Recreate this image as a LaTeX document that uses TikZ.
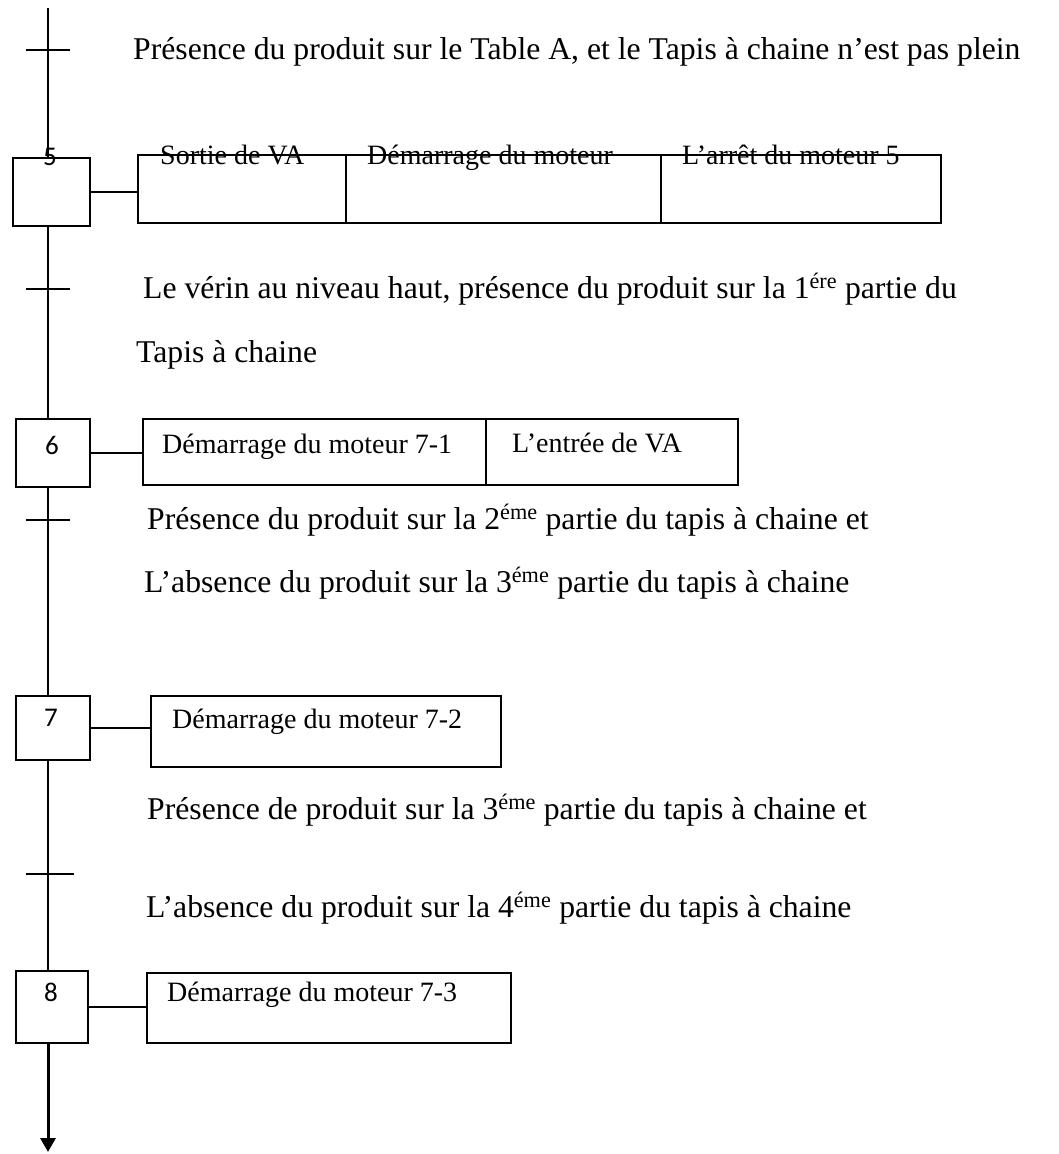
\documentclass[tikz,border=0pt]{standalone}
\usepackage{fontspec}
\setmainfont{Liberation Serif}
\newfontfamily\stepfont{Carlito}
\usetikzlibrary{arrows.meta}

\tikzset{
  px/.style={x=1pt,y=-1pt},
  link/.style={line width=2pt},
  stepbox/.style={draw,line width=2pt,inner sep=0pt,anchor=north west},
  actbox/.style={draw,line width=2pt,inner sep=0pt,anchor=north west,minimum height=68pt},
  stepnum/.style={inner sep=0pt,font=\stepfont\fontsize{27}{30}\selectfont},
  cond/.style={inner sep=0pt,anchor=base west,font=\fontsize{31.7}{38}\selectfont},
  act/.style={inner sep=0pt,anchor=base west,font=\fontsize{28}{34}\selectfont},
}

\begin{document}
\begin{tikzpicture}[px]
\useasboundingbox (0,0) rectangle (1059,1154);

% step boxes
\node[stepbox,minimum width=77pt,minimum height=68pt] (s5) at (12,157) {};
\node[stepbox,minimum width=74pt,minimum height=68pt] (s6) at (15,418) {};
\node[stepbox,minimum width=74pt,minimum height=64pt] (s7) at (15,695) {};
\node[stepbox,minimum width=72pt,minimum height=72pt] (s8) at (15,970) {};

\node[stepnum] (n5) at (50,157) {5};
\node[stepnum] (n6) at (52,445) {6};
\node[stepnum] (n7) at (51,718) {7};
\node[stepnum] (n8) at (51,992) {8};

% action boxes
\node[actbox,minimum width=208pt] (a51) at (137,154) {};
\node[actbox,minimum width=315pt] (a52) at (345,154) {};
\node[actbox,minimum width=280pt] (a53) at (660,154) {};

\node[actbox,minimum width=343pt,minimum height=66pt] (a61) at (142,418) {};
\node[actbox,minimum width=252pt,minimum height=66pt] (a62) at (485,418) {};

\node[actbox,minimum width=350pt,minimum height=71pt] (a71) at (150,695) {};

\node[actbox,minimum width=364pt,minimum height=70pt] (a81) at (146,972) {};

% action texts
\node[act] (l51) at (160,164) {Sortie de VA};
\node[act] (l52) at (367,164) {Démarrage du moteur};
\node[act] (l53) at (682,164) {L’arrêt du moteur 5};
\node[act] (l61) at (162,453) {Démarrage du moteur 7-1};
\node[act] (l62) at (512,452) {L’entrée de VA};
\node[act] (l71) at (172,728) {Démarrage du moteur 7-2};
\node[act] (l81) at (167,1001) {Démarrage du moteur 7-3};

% links from steps to actions
\draw[link] (s5.east) -- (s5.east -| a51.west);
\draw[link] (s6.east) -- (s6.east -| a61.west);
\draw[link] (s7.east) -- (s7.east -| a71.west);
\draw[link] (s8.east) -- (s8.east -| a81.west);

% main vertical flow
\coordinate (top) at (48,8);
\coordinate (bot) at (48,1152);
\draw[link] (top) -- (top |- s5.north);
\draw[link] (top |- s5.south) -- (top |- s6.north);
\draw[link] (top |- s6.south) -- (top |- s7.north);
\draw[link] (top |- s7.south) -- (top |- s8.north);
\draw[line width=3pt,-{Triangle[width=15pt,length=14pt]}] (top |- s8.south) -- (bot);

% transitions
\coordinate (t1) at (48,50);
\coordinate (t2) at (48,289);
\coordinate (t3) at (48,520);
\coordinate (t4) at (48,874);
\draw[link] ([xshift=-22pt]t1) -- ([xshift=22pt]t1);
\draw[link] ([xshift=-22pt]t2) -- ([xshift=22pt]t2);
\draw[link] ([xshift=-22pt]t3) -- ([xshift=22pt]t3);
\draw[link] ([xshift=-22pt]t4) -- ([xshift=26pt]t4);

% receptivities
\node[cond] (c1) at (133,59) {Présence du produit sur le Table A, et le Tapis à chaine n’est pas plein};
\node[cond] (c2a) at (143,298) {Le vérin au niveau haut, présence du produit sur la 1\textsuperscript{ére} partie du};
\node[cond] (c2b) at (136,362) {Tapis à chaine};
\node[cond] (c3a) at (147,529) {Présence du produit sur la 2\textsuperscript{éme} partie du tapis à chaine et};
\node[cond] (c3b) at (144,592) {L’absence du produit sur la 3\textsuperscript{éme} partie du tapis à chaine};
\node[cond] (c4a) at (147,819) {Présence de produit sur la 3\textsuperscript{éme} partie du tapis à chaine et};
\node[cond] (c4b) at (146,917) {L’absence du produit sur la 4\textsuperscript{éme} partie du tapis à chaine};
\end{tikzpicture}
\end{document}
